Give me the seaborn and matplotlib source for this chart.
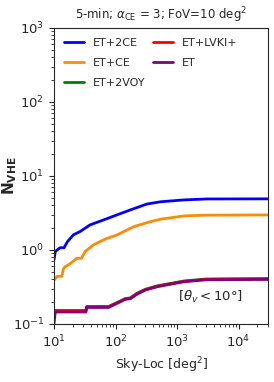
import numpy as np
import pandas as pd
import matplotlib
matplotlib.use("Agg")
import matplotlib.pyplot as plt
import seaborn as sns

sns.set_style("ticks")
plt.rcParams['font.family'] = ['DejaVu Sans']
plt.rcParams['mathtext.fontset'] = 'dejavusans'

# sky-localisation areas [deg^2] and N_VHE per network
sky_2ce = [10, 10.5, 11.3, 12.5, 14.6, 16.5, 20.7, 26.5, 38.6, 63.7, 105, 174, 324, 537, 1290, 3000, 30000]
n_2ce = [0.73, 0.95, 1.0, 1.07, 1.07, 1.29, 1.6, 1.77, 2.18, 2.54, 2.97, 3.47, 4.17, 4.47, 4.74, 4.88, 4.9]

sky_ce = [10, 11.3, 13.4, 14.2, 15, 18.2, 23.4, 28, 32, 43.8, 67.8, 105, 197, 367, 537, 1290, 3000, 30000]
n_ce = [0.39, 0.44, 0.44, 0.55, 0.59, 0.65, 0.77, 0.77, 0.95, 1.17, 1.4, 1.59, 2.06, 2.41, 2.6, 2.88, 2.95, 2.97]

sky_low = [10, 10.5, 33, 34, 77, 105, 144, 174, 223, 305, 473, 1290, 3000, 30000]
n_2voy = [0.152, 0.152, 0.152, 0.172, 0.172, 0.194, 0.22, 0.225, 0.26, 0.294, 0.327, 0.38, 0.405, 0.41]
n_lvki = [0.149, 0.149, 0.149, 0.17, 0.17, 0.192, 0.218, 0.222, 0.256, 0.29, 0.322, 0.376, 0.4, 0.405]
n_et = [0.1, 0.145, 0.145, 0.167, 0.167, 0.189, 0.215, 0.219, 0.252, 0.287, 0.318, 0.372, 0.395, 0.4]

labels = ['ET+2CE', 'ET+CE', 'ET+2VOY', 'ET+LVKI+', 'ET']
colors = ['blue', 'darkorange', 'green', 'red', 'purple']

frames = [
    pd.DataFrame({'sky': sky_2ce, 'n': n_2ce, 'net': labels[0]}),
    pd.DataFrame({'sky': sky_ce, 'n': n_ce, 'net': labels[1]}),
    pd.DataFrame({'sky': sky_low, 'n': n_2voy, 'net': labels[2]}),
    pd.DataFrame({'sky': sky_low, 'n': n_lvki, 'net': labels[3]}),
    pd.DataFrame({'sky': sky_low, 'n': n_et, 'net': labels[4]}),
]
df = pd.concat(frames, ignore_index=True)

fig = plt.figure(figsize=(2.74, 3.82), dpi=100)
ax = fig.add_axes([0.197, 0.152, 0.781, 0.775])

sns.lineplot(data=df, x='sky', y='n', hue='net', hue_order=labels,
             palette=dict(zip(labels, colors)), linewidth=2, ax=ax,
             estimator=None, sort=False)

ax.set_xscale('log')
ax.set_yscale('log')
ax.set_xlim(10, 3e4)
ax.set_ylim(0.1, 1000)
ax.tick_params(labelsize=9.5)
ax.set_xlabel('Sky-Loc [deg$^2$]', fontsize=9)
ax.set_ylabel(r'$\mathbf{N_{VHE}}$', fontsize=11)
ax.yaxis.set_label_coords(-0.165, 0.5)
ax.set_title(r'5-min; $\alpha_{\rm CE}$ = 3; FoV=10 deg$^2$', fontsize=8.5)
ax.text(1.05e3, 0.23, r'[$\theta_v < 10°$]', fontsize=9.5, va='center')

ax.legend(ncol=2, frameon=False, fontsize=8, loc='upper left',
          handlelength=1.8, columnspacing=0.7, labelspacing=0.9,
          bbox_to_anchor=(0.0, 1.0))

fig.savefig('out.png', dpi=100)
